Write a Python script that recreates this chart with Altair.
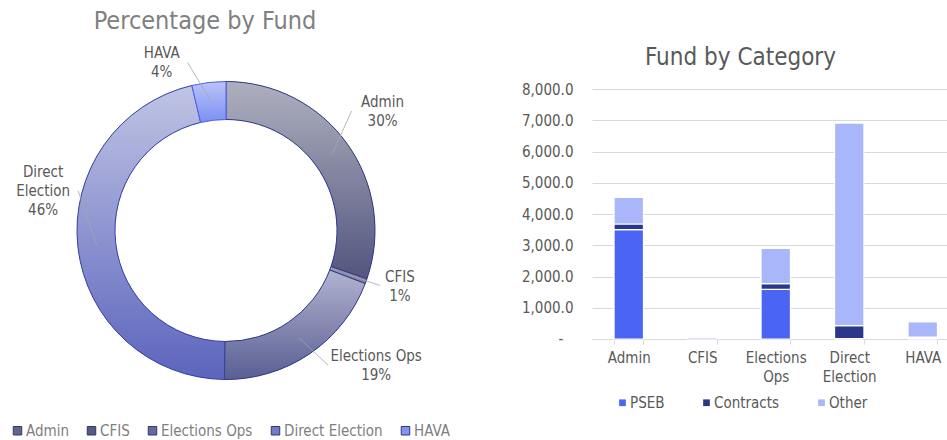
import math
import altair as alt
import pandas as pd

# ---------------- data ----------------
funds = ["Admin", "CFIS", "Elections Ops", "Direct Election", "HAVA"]
donut_names = ["Admin", "CFIS", "Elections Ops", "Direct\nElection", "HAVA"]
categories = ["PSEB", "Contracts", "Other"]
pseb = [3500, 45, 1590, 10, 20]
contracts = [180, 15, 180, 420, 40]
other = [850, 20, 1130, 6480, 490]
y_ticks = [0, 1000, 2000, 3000, 4000, 5000, 6000, 7000, 8000]
zero_label = "-"
title_left = "Percentage by Fund"
title_right = "Fund by Category"

totals = [p + c + o for p, c, o in zip(pseb, contracts, other)]
grand = sum(totals)

bar_rows = []
for i, f in enumerate(funds):
    for j, (cat, vals) in enumerate(zip(categories, [pseb, contracts, other])):
        bar_rows.append({"fund": f, "category": cat, "ord": j, "value": vals[i]})
bar_df = pd.DataFrame(bar_rows)
donut_df = pd.DataFrame({"fund": funds, "name": donut_names, "total": totals, "idx": list(range(len(funds)))})

# ---------------- styles ----------------
FONT = "DejaVu Sans Condensed, DejaVu Sans"
TXT = "#595959"
LIGHT_TXT = "#808080"
bar_colors = ["#4a64f4", "#2b3889", "#a9b6fa"]
legend_colors = ["#62658a", "#585b7e", "#666a9a", "#737bc8", "#8393f2"]
grads = {
    "Admin": ("#aeb0bf", "#53557e"),
    "CFIS": ("#9a9cb0", "#7c7e98"),
    "Elections Ops": ("#b1b4cf", "#5a5e93"),
    "Direct Election": ("#c0c4e4", "#5c64bd"),
    "HAVA": ("#bac3f9", "#7d8ff3"),
}
strokes = {"Admin": "#2e3a8c", "CFIS": "#2e3a8c", "Elections Ops": "#2e3a8c",
           "Direct Election": "#3442a6", "HAVA": "#4d63ec"}
# label nudges (dx, dy) from the polar anchor and leader end offset (ex, ey) from the label
label_nudge = {
    "Admin": (6, -11, -31, -1),
    "CFIS": (0, -7, -20, -1),
    "Elections Ops": (46, -18, -48, 0),
    "Direct Election": (1, -60, 35, 0),
    "HAVA": (-43, 16, 26, 0),
}
LINE_H = 19

PL, PT = 592, 89          # view origin on the page
W, H = 355, 250
CX, CY = 226 - PL, 230.5 - PT
R_OUT, R_IN, R_LAB, R_LEAD = 149, 111, 185, 130

theta_scale = alt.Scale(domain=[0, grand], range=[0, 2 * math.pi])
y_scale = alt.Scale(domain=[0, 8000], nice=False)
y_axis = alt.Axis(title=None, values=y_ticks, domain=False, ticks=False,
                  labelExpr="datum.value == 0 ? '' : format(datum.value, ',.1f')",
                  labelFont=FONT, labelFontSize=15, labelColor=TXT, labelPadding=19,
                  gridColor="#d9d9d9", gridWidth=1)

# ---------------- bar chart ----------------
bars = alt.Chart(bar_df).mark_bar(stroke="white", strokeWidth=1.2).encode(
    x=alt.X("fund:N", sort=funds,
            scale=alt.Scale(domain=funds, range=[0, 367.5], paddingInner=0.6, paddingOuter=0.3),
            axis=alt.Axis(title=None, labelAngle=0, labelExpr="split(datum.label, ' ')",
                          labelFont=FONT, labelFontSize=15, labelColor=TXT, labelLineHeight=19,
                          labelPadding=6, domainColor="#d9d9d9", tickColor="#d9d9d9",
                          tickSize=5, tickBand="extent", grid=False)),
    y=alt.Y("value:Q", stack="zero", scale=y_scale, axis=y_axis),
    color=alt.Color("category:N",
                    scale=alt.Scale(domain=categories, range=bar_colors),
                    legend=alt.Legend(orient="none", legendX=22, legendY=306, direction="horizontal",
                                      title=None, symbolType="square", symbolSize=45,
                                      symbolStrokeWidth=0, symbolOffset=1, labelFont=FONT,
                                      labelFontSize=15, labelColor=TXT, labelOffset=0,
                                      columnPadding=33)),
    order=alt.Order("ord:Q", sort="ascending"),
)

# accounting-style dash for the zero tick, placed through the y scale
zero_tick = alt.Chart(pd.DataFrame({"t": [zero_label], "value": [0]})).mark_text(
    font=FONT, fontSize=15, color=TXT, align="center", baseline="middle").encode(
    text="t:N", x=alt.value(-31), y=alt.Y("value:Q", scale=y_scale, axis=y_axis))

# ---------------- donut ----------------
donut_base = alt.Chart(donut_df).transform_window(
    cum="sum(total)", sort=[alt.SortField("idx")], frame=[None, 0]
).transform_joinaggregate(
    grand="sum(total)"
).transform_calculate(
    start="datum.cum - datum.total",
    mid="datum.cum - datum.total / 2",
    ang="2 * PI * (datum.cum - datum.total / 2) / datum.grand",
    label="datum.name + '\\n' + format(datum.total / datum.grand, '.0%')",
)

legend_arcs = donut_base.mark_arc(radius=R_OUT, radius2=R_IN).encode(
    theta=alt.Theta("start:Q", scale=theta_scale, stack=None),
    theta2="cum:Q",
    x=alt.value(CX), y=alt.value(CY),
    color=alt.Color("fund:N", scale=alt.Scale(domain=funds, range=legend_colors),
                    legend=alt.Legend(orient="none", legendX=8 - PL, legendY=334, direction="horizontal",
                                      title=None, symbolType="square", symbolSize=72,
                                      symbolStrokeColor="#2f3770", symbolStrokeWidth=1,
                                      symbolOffset=2, labelFont=FONT, labelFontSize=15,
                                      labelColor=LIGHT_TXT, labelOffset=1, columnPadding=13)),
)

layers = [bars, zero_tick, legend_arcs]
for f in funds:
    top, bottom = grads[f]
    g = alt.LinearGradient(gradient="linear",
                           stops=[alt.GradientStop(color=top, offset=0),
                                  alt.GradientStop(color=bottom, offset=1)],
                           x1=0, x2=0, y1=0, y2=1)
    sl = donut_base.transform_filter(alt.datum.fund == f)
    layers.append(sl.mark_arc(radius=R_OUT, radius2=R_IN, fill=g, stroke=strokes[f], strokeWidth=1).encode(
        theta=alt.Theta("start:Q", scale=theta_scale, stack=None),
        theta2="cum:Q",
        x=alt.value(CX), y=alt.value(CY),
    ))

for f, name in zip(funds, donut_names):
    dx, dy, ex, ey = label_nudge[f]
    n_lines = name.count("\n") + 2
    sl = donut_base.transform_filter(alt.datum.fund == f)
    lead = sl.transform_calculate(
        lx1=f"{CX} + {R_LEAD} * sin(datum.ang)",
        ly1=f"{CY} - {R_LEAD} * cos(datum.ang)",
        lx2=f"{CX} + {R_LAB} * sin(datum.ang) + {dx + ex}",
        ly2=f"{CY} - {R_LAB} * cos(datum.ang) + {dy + ey}",
    ).mark_rule(color="#a6a6a6", strokeWidth=0.8).encode(
        x=alt.X("lx1:Q", scale=None), y=alt.Y("ly1:Q", scale=None),
        x2="lx2:Q", y2="ly2:Q",
    )
    lab = sl.mark_text(radius=R_LAB, dx=dx, dy=dy - (n_lines - 1) * LINE_H / 2, font=FONT,
                       fontSize=15, color=TXT, lineBreak="\n", lineHeight=LINE_H,
                       align="center", baseline="middle").encode(
        theta=alt.Theta("mid:Q", scale=theta_scale, stack=None),
        x=alt.value(CX), y=alt.value(CY),
        text="label:N",
    )
    layers += [lead, lab]

t_left = alt.Chart(pd.DataFrame({"t": [title_left]})).mark_text(
    font=FONT, fontSize=25, color=LIGHT_TXT, align="center", baseline="middle").encode(
    text="t:N", x=alt.value(205 - PL), y=alt.value(21 - PT))
t_right = alt.Chart(pd.DataFrame({"t": [title_right]})).mark_text(
    font=FONT, fontSize=24, color=TXT, align="center", baseline="middle").encode(
    text="t:N", x=alt.value(740.5 - PL), y=alt.value(58 - PT))
layers += [t_left, t_right]

chart = alt.layer(*layers).resolve_scale(color="independent").properties(
    width=W, height=H,
    autosize=alt.AutoSizeParams(type="none"),
    padding={"left": PL, "top": PT, "right": 0, "bottom": 440 - PT - H},
    background="white",
).configure_view(stroke=None)

chart.save("out.html", embed_options={"renderer": "svg", "actions": False})
